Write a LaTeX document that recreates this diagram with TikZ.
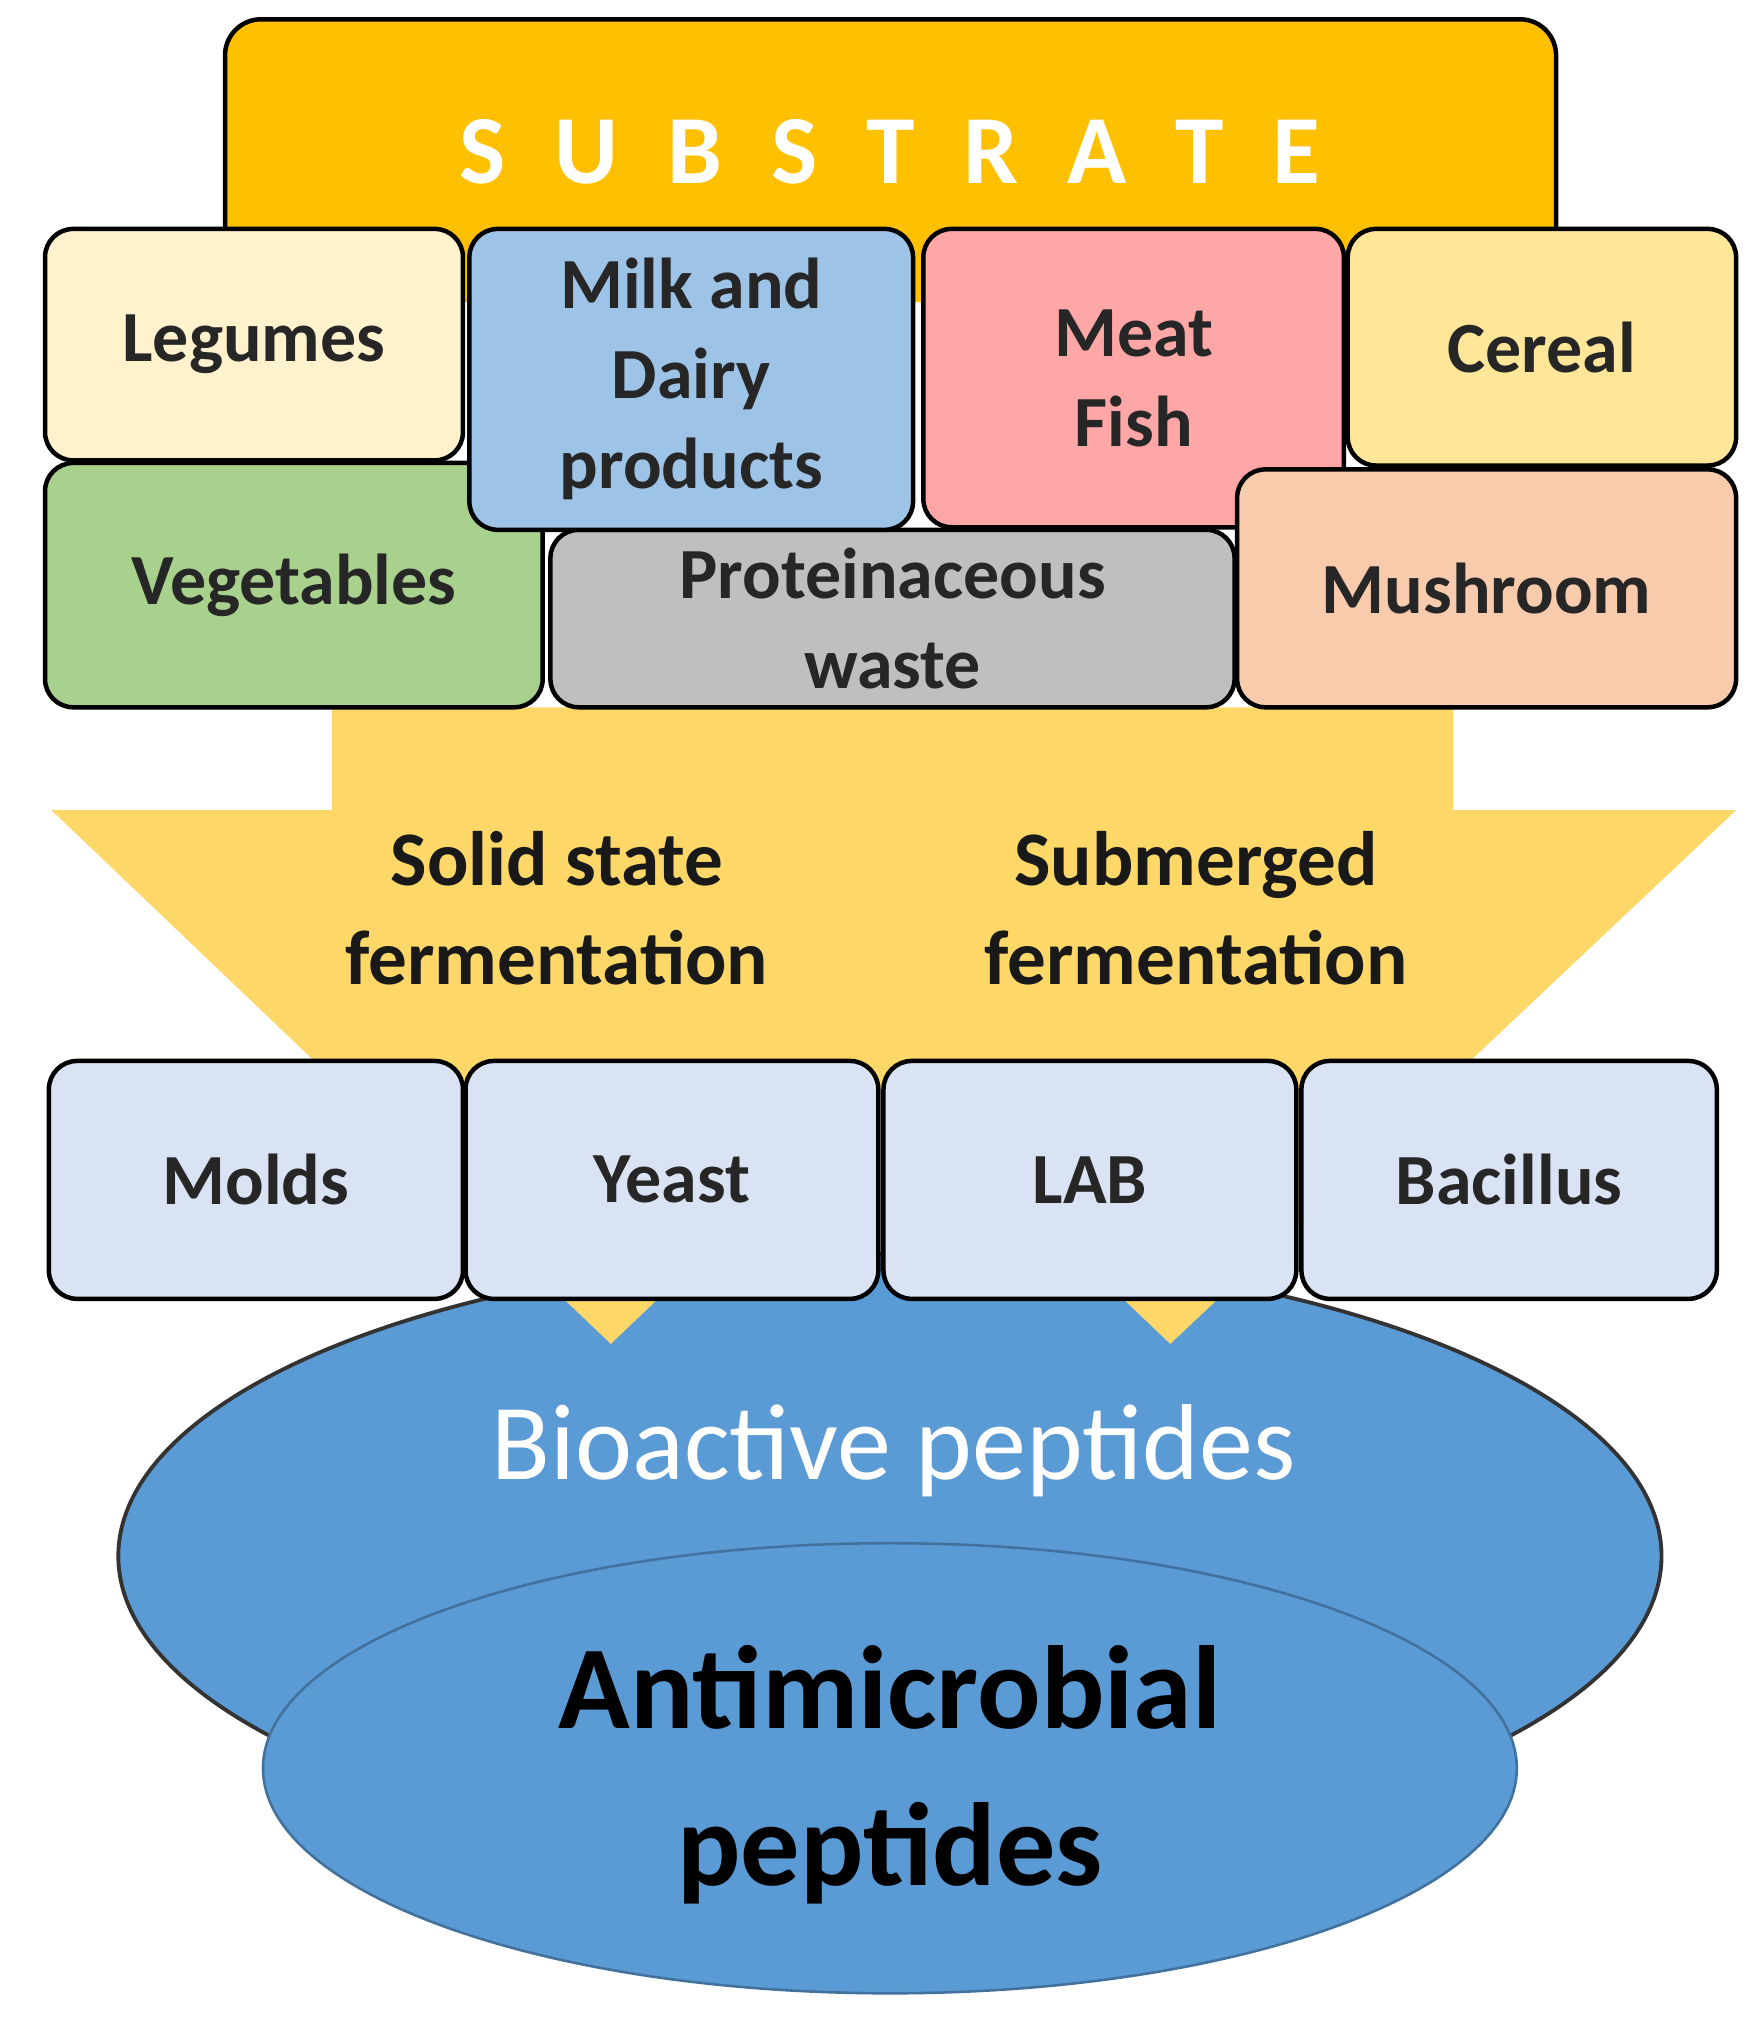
\documentclass[tikz,border=0pt]{standalone}
\usepackage{fontspec}
\usetikzlibrary{shapes.geometric}
\setmainfont{Carlito}
\definecolor{subst}{HTML}{FFC000}
\definecolor{arr}{HTML}{FDD869}
\definecolor{orgc}{HTML}{DAE3F3}
\definecolor{blu}{HTML}{5B9BD5}
\definecolor{bluD}{HTML}{41719C}
\begin{document}
\begin{tikzpicture}[x=1pt,y=-1pt,
  box/.style={draw=black,line width=3.5pt,rounded corners=22pt,inner sep=0pt,align=center,
     font=\bfseries\fontsize{56}{70}\selectfont,text=black!85},
  big/.style={align=center,font=\bfseries\fontsize{60}{77}\selectfont,text=black!90}]
\useasboundingbox (0,0) rectangle (1366,1570);
% substrate
\draw[fill=subst,draw=black,line width=3.5pt,rounded corners=28pt] (175,235) -- (175,15) -- (1210,15) -- (1210,235);
\node[font=\bfseries\fontsize{76}{80}\selectfont,text=white] (sub) at (692,118) {S\,\,\,U\,\,\,B\,\,\,S\,\,\,T\,\,\,R\,\,\,A\,\,\,T\,\,\,E};
% ellipses
\node[ellipse,draw=black!80,line width=3pt,fill=blu,minimum width=1200pt,minimum height=470pt] (out) at (692,1210) {};
% arrows
\fill[arr] (258,550) -- (692,550) -- (692,630) -- (910,630) -- (475,1045) -- (40,630) -- (258,630) -- cycle;
\fill[arr] (692,550) -- (1130,550) -- (1130,630) -- (1350,630) -- (910,1045) -- (475,630) -- (692,630) -- cycle;
\node[ellipse,draw=bluD,line width=2pt,fill=blu,minimum width=975pt,minimum height=350pt] (inn) at (692,1375) {};
\node[font=\fontsize{84}{80}\selectfont,text=white] (bio) at (695,1128) {Bioactive peptides};
\node[align=center,font=\bfseries\fontsize{92}{122}\selectfont,text=black] (amp) at (692,1380) {Antimicrobial\\peptides};
% substrate boxes
\node[box,minimum width=325pt,minimum height=180pt,fill={rgb,255:red,255;green,242;blue,204}] (leg) at (197.5,268) {Legumes};
\node[box,fill={rgb,255:red,255;green,230;blue,153},minimum width=302pt,minimum height=184pt] (cer) at (1199,270) {Cereal};
\node[box,fill={rgb,255:red,169;green,209;blue,142},minimum width=387pt,minimum height=190pt] (veg) at (228.5,455) {Vegetables};
\node[box,fill={rgb,255:red,191;green,191;blue,191},minimum width=532pt,minimum height=138pt] (pro) at (694,481) {Proteinaceous\\waste};
\node[box,fill={rgb,255:red,157;green,195;blue,230},minimum width=345pt,minimum height=234pt] (milk) at (537.5,295) {Milk and\\Dairy\\products};
\node[box,fill={rgb,255:red,255;green,167;blue,167},minimum width=327pt,minimum height=232pt] (meat) at (881.5,294) {Meat\\Fish};
\node[box,fill={rgb,255:red,248;green,203;blue,173},minimum width=388pt,minimum height=185pt] (mush) at (1156,457.5) {Mushroom};
% fermentation
\node[big] (ssf) at (433,706) {Solid state\\fermentation};
\node[big] (smf) at (930,706) {Submerged\\fermentation};
% organisms
\node[box,fill=orgc,minimum width=322pt,minimum height=185pt] (mol) at (199,917.5) {Molds};
\node[box,fill=orgc,minimum width=321pt,minimum height=185pt] (yea) at (522.5,917.5) {Yeast};
\node[box,fill=orgc,minimum width=321pt,minimum height=185pt] (lab) at (847.5,917.5) {LAB};
\node[box,fill=orgc,minimum width=323pt,minimum height=185pt] (bac) at (1173.5,917.5) {Bacillus};
\end{tikzpicture}
\end{document}
